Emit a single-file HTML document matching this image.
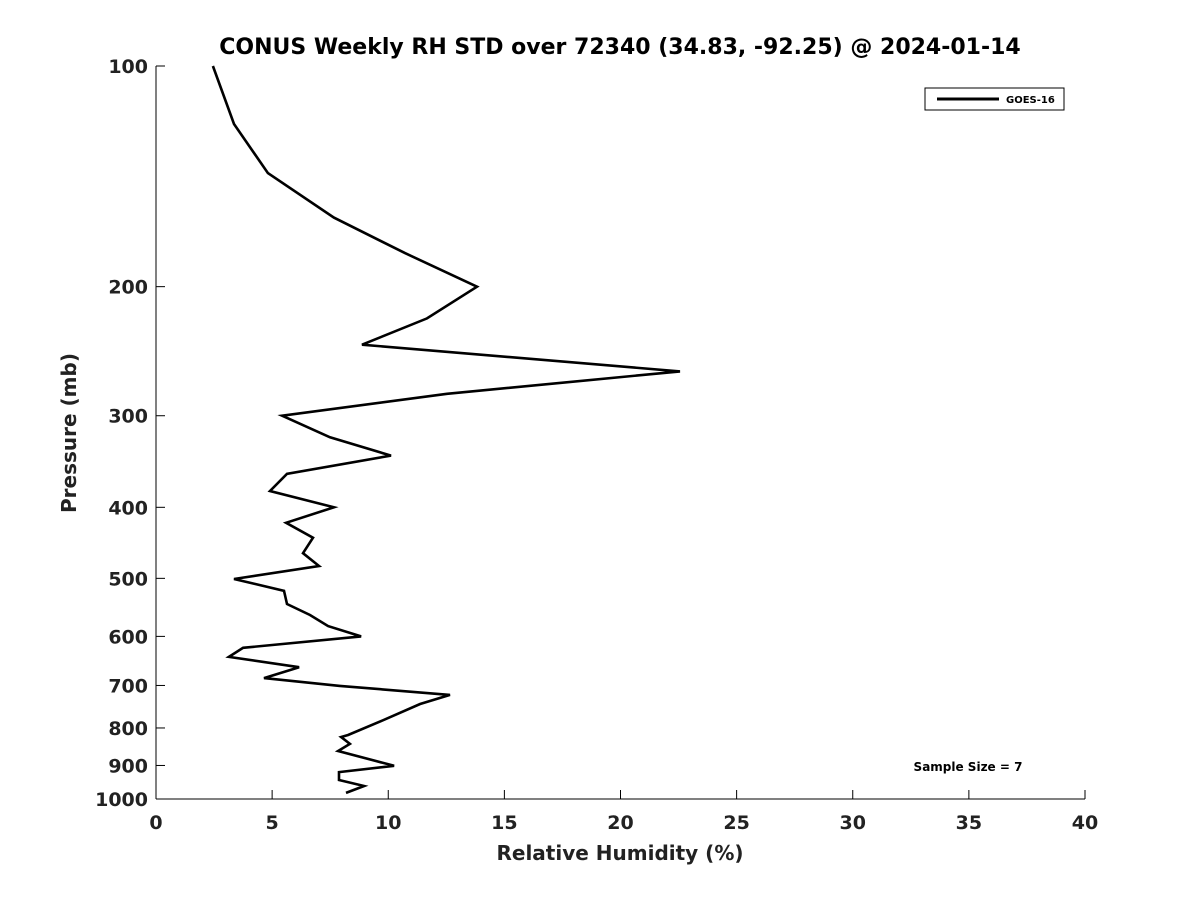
<!DOCTYPE html>
<html><head><meta charset="utf-8"><style>body{margin:0;background:#fff}svg{display:block;font-family:"DejaVu Sans","Liberation Sans",sans-serif}</style></head>
<body>
<svg id="chart" width="1200" height="900" viewBox="0 0 1200 900">
<rect width="1200" height="900" fill="#fff"/>
<text x="620" y="54" text-anchor="middle" font-size="22" font-weight="bold" fill="#000">CONUS Weekly RH STD over 72340 (34.83, -92.25) @ 2024-01-14</text>
<g id="axes"></g>
<path id="series" fill="none" stroke="#000" stroke-width="2.6" stroke-linejoin="miter"/>
<g>
<rect x="925" y="88" width="139" height="22" fill="#fff" stroke="#000" stroke-width="1"/>
<line x1="937" y1="99" x2="999" y2="99" stroke="#000" stroke-width="3"/>
<text x="1006" y="103" font-size="10" font-weight="bold">GOES-16</text>
</g>
<text x="968" y="771" text-anchor="middle" font-size="12" font-weight="bold">Sample Size = 7</text>
<text x="620" y="860" text-anchor="middle" font-size="20" font-weight="bold" fill="#222">Relative Humidity (%)</text>
<text transform="translate(76,433) rotate(-90)" text-anchor="middle" font-size="20" font-weight="bold" fill="#222">Pressure (mb)</text>
</svg>
<script>
const rhValues=[2.45,3.36,4.82,7.66,10.72,13.82,11.67,8.87,22.56,12.53,5.43,7.49,10.12,5.64,4.91,7.66,5.6,6.76,6.33,7.02,3.36,5.51,5.64,6.63,7.41,8.83,3.75,3.14,6.16,4.65,7.92,12.66,11.37,9.69,8.27,7.97,8.35,7.84,10.25,7.88,7.88,8.96,8.18];
const pressures=[100,120,140,161,180,200,221,240,261,280,300,321,340,360,380,400,420,440,462,481,501,520,542,561,581,600,622,640,661,684,701,721,742,783,818,823,841,860,901,919,942,960,981];
const xTicks=[0,5,10,15,20,25,30,35,40];
const yTicks=[100,200,300,400,500,600,700,800,900,1000];
const X0=156,X1=1085,Y0=66,Y1=799;
const xs=v=>X0+(v-0)/(40-0)*(X1-X0);
const ys=p=>Y0+(Math.log10(p)-2)*(Y1-Y0);
const ns="http://www.w3.org/2000/svg";
const g=document.getElementById('axes');
function mk(t,a){const e=document.createElementNS(ns,t);for(const k in a)e.setAttribute(k,a[k]);g.appendChild(e);return e;}
let l=mk('line',{x1:X0,y1:Y0,x2:X0,y2:Y1,stroke:'#000','stroke-width':1});


l=mk('line',{x1:X0,y1:Y1,x2:X1,y2:Y1,stroke:'#000','stroke-width':1});


xTicks.forEach(v=>{const x=xs(v);mk('line',{x1:x,y1:Y1,x2:x,y2:Y1-9,stroke:'#000'});
const t=mk('text',{x:x,y:Y1+30,'text-anchor':'middle','font-size':19,'font-weight':'bold',fill:'#222'});t.textContent=v;

});
yTicks.forEach(p=>{const y=ys(p);mk('line',{x1:X0,y1:y,x2:X0+9,y2:y,stroke:'#000'});
const t=mk('text',{x:X0-8,y:y+7,'text-anchor':'end','font-size':19,'font-weight':'bold',fill:'#222'});t.textContent=p;

});
document.getElementById('series').setAttribute('d',rhValues.map((v,i)=>(i?'L':'M')+xs(v).toFixed(1)+','+ys(pressures[i]).toFixed(1)).join(''));
</script>
</body></html>
